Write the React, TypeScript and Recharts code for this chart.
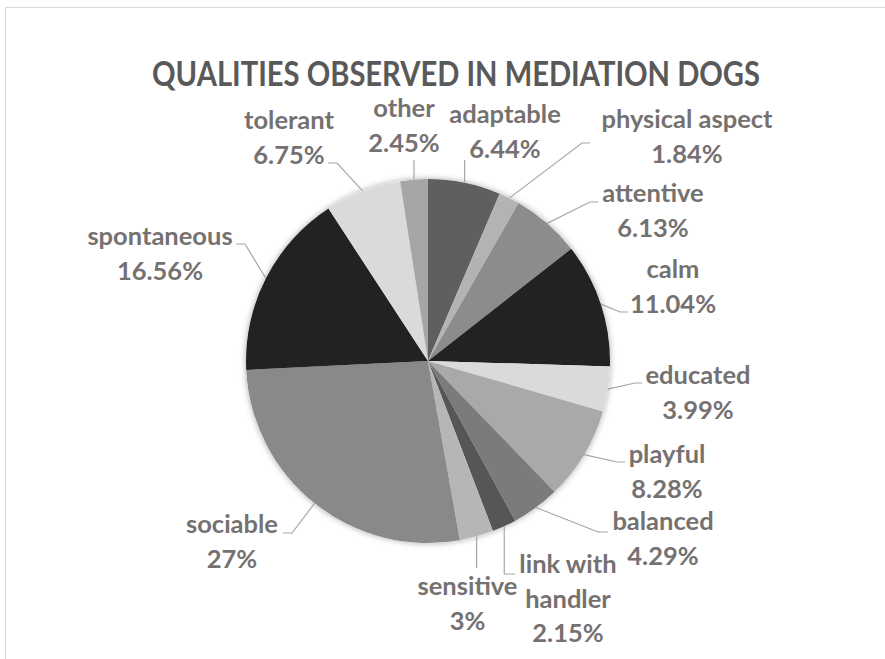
import React from 'react';
import { PieChart, Pie, Cell } from 'recharts';

const categories = [
  'adaptable', 'physical aspect', 'attentive', 'calm', 'educated', 'playful', 'balanced',
  'link with handler', 'sensitive', 'sociable', 'spontaneous', 'tolerant', 'other',
];
const shares = [6.44, 1.84, 6.13, 11.04, 3.99, 8.28, 4.29, 2.15, 3, 27, 16.56, 6.75, 2.45];
const sliceColors = [
  '#5f5f5f', '#b3b3b3', '#8c8c8c', '#222222', '#dadada', '#a9a9a9', '#7b7b7b',
  '#565656', '#b6b6b6', '#898989', '#222222', '#dadada', '#a6a6a6',
];

const data = categories.map((name, i) => ({ name, value: shares[i] }));
const total = shares.reduce((a, b) => a + b, 0);

const CX = 423;
const CY = 356;
const R = 182;

// label placement (relative to pie centre): text centre x, first baseline y, leader bend points
const LABEL_LAYOUT: { dx: number; dy: number; leader: number[][] }[] = [
  { dx: 77, dy: -238, leader: [[40, -201]] },
  { dx: 259, dy: -233, leader: [[154, -218], [162, -218]] },
  { dx: 225, dy: -159, leader: [[162, -159], [170, -159]] },
  { dx: 245, dy: -83, leader: [[192, -49], [200, -49]] },
  { dx: 270, dy: 23, leader: [[207, 22], [214, 22]] },
  { dx: 239, dy: 102, leader: [[189, 101], [197, 101]] },
  { dx: 235, dy: 169, leader: [[170, 171], [180, 171]] },
  { dx: 140, dy: 212, leader: [[77, 213], [87, 213]] },
  { dx: 39.5, dy: 234, leader: [[49, 207]] },
  { dx: -196, dy: 172, leader: [[-136, 172], [-145, 172]] },
  { dx: -268, dy: -116, leader: [[-183, -117], [-192, -117]] },
  { dx: -139, dy: -232, leader: [[-91, -198], [-100, -198]] },
  { dx: -24, dy: -244, leader: [[-14, -201]] },
];

const WRAP: Record<string, string[]> = { 'link with handler': ['link with', 'handler'] };

const FONT = 'Lato, "Open Sans", sans-serif';
const LINE_H = 34.5;

const renderLabel = (props: any) => {
  const { cx, cy, midAngle, outerRadius, index, name, value } = props;
  const rad = Math.PI / 180;
  const sx = cx + outerRadius * Math.cos(-midAngle * rad);
  const sy = cy + outerRadius * Math.sin(-midAngle * rad);
  const lay = LABEL_LAYOUT[index];
  let pts = [[sx, sy], ...lay.leader.map(([x, y]) => [cx + x, cy + y])];
  // vertical leaders go straight down/up from the slice edge
  if (lay.leader.length === 1 || index === 7) {
    pts = [[sx, sy], ...lay.leader.map(([x, y], i) => [i === 0 ? sx : cx + x, cy + y])];
  }
  const lines = [...(WRAP[name] || [name]), `${value}%`];
  const tx = cx + lay.dx;
  return (
    <g key={`lbl-${index}`}>
      <polyline
        points={pts.map((p) => p.join(',')).join(' ')}
        fill="none"
        stroke="#a6a6a6"
        strokeWidth={1.2}
      />
      <text
        x={tx}
        y={cy + lay.dy}
        textAnchor="middle"
        fill="#767171"
        fontFamily={FONT}
        fontWeight={700}
        fontSize={25.5}
      >
        {lines.map((l, i) => (
          <tspan key={i} x={tx} dy={i === 0 ? 0 : LINE_H}>
            {l}
          </tspan>
        ))}
      </text>
    </g>
  );
};

export default function App() {
  return (
    <div style={{ position: 'absolute', left: 0, top: 0, width: 885, height: 659, background: '#fff' }}>
      <svg width={885} height={659} style={{ position: 'absolute', left: 0, top: 0 }}>
        <defs>
          <filter id="pieShadow" x="-20%" y="-20%" width="140%" height="140%">
            <feDropShadow dx="0" dy="0" stdDeviation="3" floodColor="#000" floodOpacity="0.35" />
          </filter>
        </defs>
        <line x1={5.5} y1={7.5} x2={885} y2={7.5} stroke="#d9d9d9" strokeWidth={1} />
        <line x1={5.5} y1={7.5} x2={5.5} y2={659} stroke="#d9d9d9" strokeWidth={1} />
        <text
          x={456}
          y={86}
          textAnchor="middle"
          fill="#595959"
          fontFamily={FONT}
          fontWeight={700}
          fontSize={34}
          textLength={608}
          lengthAdjust="spacingAndGlyphs"
        >
          QUALITIES OBSERVED IN MEDIATION DOGS
        </text>
      </svg>
      <div style={{ position: 'absolute', left: 0, top: 0 }}>
        <PieChart width={885} height={659}>
          <Pie
            data={[{ name: 'all', value: total }]}
            dataKey="value"
            cx={CX}
            cy={CY}
            outerRadius={R}
            startAngle={90}
            endAngle={-270}
            stroke="none"
            label={false}
            labelLine={false}
            isAnimationActive={false}
          >
            <Cell fill="#ffffff" filter="url(#pieShadow)" />
          </Pie>
          <Pie
            data={data}
            dataKey="value"
            nameKey="name"
            cx={CX}
            cy={CY}
            outerRadius={R}
            startAngle={90}
            endAngle={-270}
            stroke="none"
            label={renderLabel}
            labelLine={false}
            isAnimationActive={false}
          >
            {data.map((d, i) => (
              <Cell key={d.name} fill={sliceColors[i]} />
            ))}
          </Pie>
        </PieChart>
      </div>
    </div>
  );
}
